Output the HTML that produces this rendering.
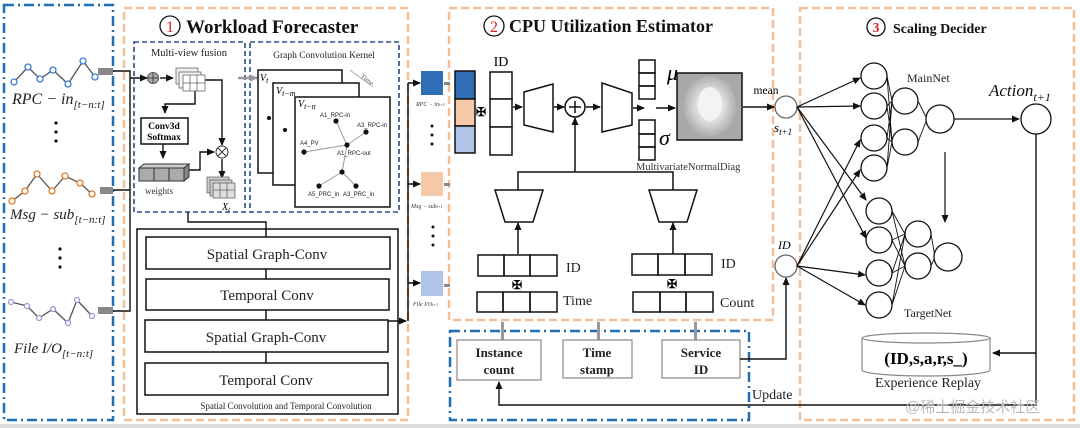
<!DOCTYPE html>
<html><head><meta charset="utf-8"><style>
html,body{margin:0;padding:0;background:#fff;}
svg{display:block;font-family:"Liberation Serif",serif;}
</style></head><body>
<svg width="1080" height="428" viewBox="0 0 1080 428" xmlns="http://www.w3.org/2000/svg">
<defs>
<marker id="a" markerWidth="8" markerHeight="8" refX="7" refY="4" orient="auto" markerUnits="userSpaceOnUse"><path d="M0,0.5 L8,4 L0,7.5 Z" fill="#111"/></marker>
<marker id="ag" markerWidth="8" markerHeight="8" refX="7" refY="4" orient="auto" markerUnits="userSpaceOnUse"><path d="M0,0.5 L8,4 L0,7.5 Z" fill="#999"/></marker>
<radialGradient id="g" cx="50%" cy="50%" r="50%"><stop offset="0" stop-color="#f4f4f4"/><stop offset="0.45" stop-color="#e6e6e6"/><stop offset="0.75" stop-color="#c8c8c8"/><stop offset="1" stop-color="#b0b0b0"/></radialGradient>
</defs>
<rect x="0" y="0" width="1080" height="428" fill="#fff"/>
<rect x="0" y="424" width="1080" height="4" fill="#ddd"/>

<!-- containers -->
<rect x="4" y="5" width="109" height="415" fill="none" stroke="#1f6fb2" stroke-width="2.5" stroke-dasharray="10,4,2,4"/>
<rect x="124" y="8" width="284" height="412" fill="none" stroke="#f2bf99" stroke-width="2.5" stroke-dasharray="8,4"/>
<rect x="449" y="8" width="324" height="312" fill="none" stroke="#f2bf99" stroke-width="2.5" stroke-dasharray="8,4"/>
<rect x="800" y="8" width="274" height="412" fill="none" stroke="#f2bf99" stroke-width="2.5" stroke-dasharray="8,4"/>
<rect x="450" y="331" width="299" height="89" fill="none" stroke="#1f6fb2" stroke-width="2.5" stroke-dasharray="10,4,2,4"/>
<rect x="134" y="42" width="111" height="170" fill="none" stroke="#2b4a8c" stroke-width="1.6" stroke-dasharray="5,3"/>
<rect x="250" y="42" width="149" height="170" fill="none" stroke="#2b4a8c" stroke-width="1.6" stroke-dasharray="5,3"/>

<!-- titles -->
<circle cx="170" cy="26" r="10" fill="none" stroke="#111" stroke-width="1.3"/>
<text x="170" y="32" font-size="16" fill="#d22" text-anchor="middle">1</text>
<text x="186" y="33" font-size="19" font-weight="bold" fill="#111">Workload Forecaster</text>
<circle cx="494" cy="26" r="10" fill="none" stroke="#111" stroke-width="1.3"/>
<text x="494" y="32" font-size="16" fill="#d22" text-anchor="middle">2</text>
<text x="509" y="32" font-size="18" font-weight="bold" fill="#111">CPU Utilization Estimator</text>
<circle cx="876" cy="27" r="9" fill="none" stroke="#111" stroke-width="1.3"/>
<text x="876" y="32" font-size="14" fill="#d22" text-anchor="middle" font-weight="bold">3</text>
<text x="893" y="33" font-size="14" font-weight="bold" fill="#111">Scaling Decider</text>

<!-- time series -->
<g fill="none" stroke-width="1.3">
<polyline points="14,82 28,67 40,79 53,70 68,84 83,61 95,77" stroke="#555"/>
<g stroke="#3a7bd5" fill="#fff"><circle cx="14" cy="82" r="3"/><circle cx="28" cy="67" r="3"/><circle cx="40" cy="79" r="3"/><circle cx="53" cy="70" r="3"/><circle cx="68" cy="84" r="3"/><circle cx="83" cy="61" r="3"/><circle cx="95" cy="77" r="3"/></g>
<polyline points="12,201 25,191 37,174 52,191 65,176 80,183 92,194" stroke="#555"/>
<g stroke="#e07b2a" fill="#fff"><circle cx="12" cy="201" r="3"/><circle cx="25" cy="191" r="3"/><circle cx="37" cy="174" r="3"/><circle cx="52" cy="191" r="3"/><circle cx="65" cy="176" r="3"/><circle cx="80" cy="183" r="3"/><circle cx="92" cy="194" r="3"/></g>
<polyline points="11,302 27,306 39,318 53,309 68,323 77,300 92,316" stroke="#555"/>
<g stroke="#9a9ad8" fill="#fff"><circle cx="11" cy="302" r="2.5"/><circle cx="27" cy="306" r="2.5"/><circle cx="39" cy="318" r="2.5"/><circle cx="53" cy="309" r="2.5"/><circle cx="68" cy="323" r="2.5"/><circle cx="77" cy="300" r="2.5"/><circle cx="92" cy="316" r="2.5"/></g>
</g>
<text x="12" y="104" font-size="16" font-style="italic" fill="#222">RPC − in<tspan font-size="11" dy="4">[t−n:t]</tspan></text>
<text x="10" y="219" font-size="15" font-style="italic" fill="#222">Msg − sub<tspan font-size="11" dy="4">[t−n:t]</tspan></text>
<text x="14" y="353" font-size="15" font-style="italic" fill="#222">File I/O<tspan font-size="11" dy="4">[t−n:t]</tspan></text>
<g fill="#111"><circle cx="56" cy="123" r="1.6"/><circle cx="56" cy="132" r="1.6"/><circle cx="56" cy="141" r="1.6"/>
<circle cx="60" cy="249" r="1.6"/><circle cx="60" cy="258" r="1.6"/><circle cx="60" cy="267" r="1.6"/></g>
<rect x="98" y="68" width="15" height="7" fill="#888"/>
<rect x="100" y="187" width="13" height="7" fill="#888"/>
<rect x="98" y="307" width="15" height="7" fill="#888"/>

<!-- left connectors -->
<g stroke="#111" stroke-width="1.4" fill="none">
<polyline points="113,71 130,71 130,311 113,311"/>
<line x1="113" y1="190" x2="130" y2="190"/>
<line x1="130" y1="78" x2="147" y2="78" marker-end="url(#a)"/>
<line x1="160" y1="78" x2="173" y2="78" marker-end="url(#a)"/>
<polyline points="195,86 195,104 165,104 165,113" marker-end="url(#a)"/>
<polyline points="205,80 222,80 222,145" marker-end="url(#a)"/>
<line x1="163" y1="143" x2="163" y2="158" marker-end="url(#a)"/>
<polyline points="184,170 200,170 200,152 214,152" marker-end="url(#a)"/>
<line x1="222" y1="159" x2="222" y2="178" marker-end="url(#a)"/>
<polyline points="188,212 188,222 266,222 266,229"/>
</g>
<line x1="238" y1="78" x2="257" y2="78" stroke="#999" stroke-width="2.5" marker-end="url(#ag)"/>
<circle cx="153" cy="78" r="5.5" fill="#aaa" stroke="#555" stroke-width="1"/>
<line x1="153" y1="73" x2="153" y2="83" stroke="#333" stroke-width="0.8"/><line x1="148" y1="78" x2="158" y2="78" stroke="#333" stroke-width="0.8"/>
<circle cx="222" cy="152" r="6" fill="#fff" stroke="#333" stroke-width="1"/>
<path d="M218,148 L226,156 M226,148 L218,156" stroke="#333" stroke-width="1"/>
<!-- tensor cubes -->
<g stroke="#666" stroke-width="0.8" fill="#fff">
<rect x="176" y="68" width="22" height="16" fill="#eee"/><rect x="179" y="72" width="22" height="16" fill="#f4f4f4"/>
<rect x="183" y="75" width="22" height="16"/><line x1="190" y1="75" x2="190" y2="91"/><line x1="197" y1="75" x2="197" y2="91"/><line x1="183" y1="83" x2="205" y2="83"/>
<rect x="207" y="177" width="22" height="16" fill="#ccc"/><rect x="210" y="180" width="22" height="16" fill="#ccc"/>
<rect x="213" y="183" width="22" height="15" fill="#ddd"/><line x1="220" y1="183" x2="220" y2="198"/><line x1="227" y1="183" x2="227" y2="198"/><line x1="213" y1="190" x2="235" y2="190"/>
</g>
<rect x="141" y="118" width="47" height="26" fill="#fff" stroke="#111" stroke-width="1.5"/>
<text x="164" y="129" font-size="9.5" font-weight="bold" text-anchor="middle">Conv3d</text>
<text x="164" y="140" font-size="9.5" font-weight="bold" text-anchor="middle">Softmax</text>
<g stroke="#333" stroke-width="1" fill="#aaa">
<rect x="139" y="168" width="15" height="13"/><rect x="154" y="168" width="15" height="13"/><rect x="169" y="168" width="15" height="13"/>
<path d="M139,168 L144,164 L189,164 L184,168 Z" fill="#ccc"/><path d="M184,168 L189,164 L189,177 L184,181 Z" fill="#888"/>
</g>
<text x="145" y="194" font-size="9" fill="#333">weights</text>
<text x="222" y="210" font-size="10" font-style="italic">X<tspan font-size="7" dy="2">t</tspan></text>
<text x="189" y="56" font-size="10.5" text-anchor="middle" fill="#222">Multi-view fusion</text>
<text x="324" y="58" font-size="9.5" text-anchor="middle" fill="#222">Graph Convolution Kernel</text>

<!-- graph pages -->
<g stroke="#111" stroke-width="1.5" fill="#fff">
<rect x="258" y="70" width="84" height="103"/>
<rect x="273" y="83" width="86" height="102"/>
<rect x="295" y="97" width="95" height="110"/>
</g>
<text x="260" y="81" font-size="10" font-style="italic">V<tspan font-size="8" dy="2">t</tspan></text>
<text x="276" y="94" font-size="10" font-style="italic">V<tspan font-size="8" dy="2">t−m</tspan></text>
<text x="298" y="107" font-size="10" font-style="italic">V<tspan font-size="8" dy="2">t−n</tspan></text>
<text x="360" y="77" font-size="7" fill="#555" transform="rotate(38 360 77)">Time</text>
<line x1="350" y1="70" x2="373" y2="87" stroke="#aaa" stroke-width="1"/>
<circle cx="269" cy="118" r="2" fill="#111"/><circle cx="285" cy="130" r="2" fill="#111"/>
<g stroke="#999" stroke-width="1"><line x1="336" y1="121" x2="347" y2="145"/><line x1="366" y1="132" x2="347" y2="145"/><line x1="304" y1="152" x2="347" y2="145"/><line x1="347" y1="145" x2="342" y2="172"/><line x1="342" y1="172" x2="319" y2="186"/><line x1="342" y1="172" x2="356" y2="186"/></g>
<g fill="#111"><circle cx="336" cy="121" r="2.6"/><circle cx="366" cy="132" r="2.6"/><circle cx="304" cy="152" r="2.6"/><circle cx="347" cy="145" r="2.6"/><circle cx="342" cy="172" r="2.6"/><circle cx="319" cy="186" r="2.6"/><circle cx="356" cy="186" r="2.6"/></g>
<g font-family="Liberation Sans,sans-serif" font-size="6" fill="#222">
<text x="320" y="117">A1_RPC-in</text><text x="357" y="127">A3_RPC-in</text><text x="300" y="145">A4_PV</text><text x="337" y="155">A1_RPC-out</text><text x="308" y="196">A5_PRC_in</text><text x="343" y="196">A3_PRC_in</text></g>

<!-- ST conv -->
<rect x="137" y="229" width="261" height="185" fill="none" stroke="#111" stroke-width="1.5"/>
<g stroke="#111" stroke-width="1.5" fill="#fff">
<line x1="266" y1="229" x2="266" y2="363"/>
<rect x="146" y="237" width="244" height="32"/><rect x="146" y="279" width="243" height="31"/>
<rect x="145" y="320" width="243" height="32"/><rect x="145" y="363" width="243" height="32"/>
</g>
<g font-size="15" text-anchor="middle" fill="#222">
<text x="267" y="259">Spatial Graph-Conv</text><text x="267" y="300">Temporal Conv</text>
<text x="266" y="342">Spatial Graph-Conv</text><text x="266" y="385">Temporal Conv</text></g>
<text x="286" y="409" font-size="9" text-anchor="middle" fill="#222">Spatial Convolution and Temporal Convolution</text>

<!-- forecaster outputs -->
<g stroke="#111" stroke-width="1.5" fill="none">
<line x1="388" y1="321" x2="406" y2="321" marker-end="url(#a)"/>
<polyline points="408,321 408,83"/>
<line x1="408" y1="83" x2="420" y2="83" marker-end="url(#a)"/>
<line x1="408" y1="184" x2="420" y2="184" marker-end="url(#a)"/>
<line x1="408" y1="283" x2="420" y2="283" marker-end="url(#a)"/>
</g>
<rect x="421" y="71" width="22" height="24" fill="#2f6db5"/>
<rect x="421" y="172" width="22" height="24" fill="#f5c9a8"/>
<rect x="421" y="271" width="22" height="25" fill="#b0c4e8"/>
<g fill="#888"><rect x="444" y="82" width="6" height="3"/><rect x="444" y="183" width="6" height="3"/><rect x="444" y="284" width="6" height="3"/></g>
<g font-size="6" font-style="italic" fill="#333"><text x="416" y="106">RPC − in<tspan font-size="4">t+1</tspan></text><text x="411" y="208">Msg − sub<tspan font-size="4">t+1</tspan></text><text x="413" y="306">File I/O<tspan font-size="4">t+1</tspan></text></g>
<g fill="#111"><circle cx="432" cy="126" r="1.5"/><circle cx="432" cy="135" r="1.5"/><circle cx="432" cy="144" r="1.5"/><circle cx="433" cy="227" r="1.5"/><circle cx="433" cy="236" r="1.5"/><circle cx="433" cy="245" r="1.5"/></g>

<!-- CPU estimator -->
<g stroke="#111" stroke-width="1.5">
<rect x="455" y="71" width="20" height="28" fill="#2f6db5"/><rect x="455" y="99" width="20" height="27" fill="#f5c9a8"/><rect x="455" y="126" width="20" height="27" fill="#b0c4e8"/>
<rect x="490" y="72" width="22" height="27" fill="#fff"/><rect x="490" y="99" width="22" height="28" fill="#fff"/><rect x="490" y="127" width="22" height="28" fill="#fff"/>
</g>
<text x="481" y="116" font-size="12" text-anchor="middle" font-weight="bold">✠</text>
<text x="501" y="66" font-size="14" text-anchor="middle">ID</text>
<g stroke="#111" stroke-width="1.5" fill="none">
<line x1="513" y1="107" x2="522" y2="107" marker-end="url(#a)"/>
<path d="M524,92 L553,84 L553,132 L524,125 Z" fill="#fff"/>
<line x1="554" y1="107" x2="564" y2="107" marker-end="url(#a)"/>
<circle cx="575" cy="107" r="10" fill="#fff"/>
<path d="M569,107 H581 M575,101 V113"/>
<line x1="586" y1="107" x2="600" y2="107" marker-end="url(#a)"/>
<path d="M602,83 L632,93 L632,125 L602,132 Z" fill="#fff"/>
<line x1="633" y1="108" x2="644" y2="108" marker-end="url(#a)"/>
<line x1="656" y1="108" x2="675" y2="108" marker-end="url(#a)"/>
<rect x="639" y="60" width="16" height="13"/><rect x="639" y="73" width="16" height="13"/><rect x="639" y="86" width="16" height="13"/>
<rect x="639" y="120" width="16" height="14"/><rect x="639" y="134" width="16" height="13"/><rect x="639" y="147" width="16" height="13"/>
<line x1="575" y1="172" x2="575" y2="118" marker-end="url(#a)"/>
<polyline points="518,190 518,172 673,172 673,190"/>
<path d="M495,190 L543,190 L533,222 L505,222 Z" fill="#fff"/>
<path d="M649,190 L697,190 L687,222 L659,222 Z" fill="#fff"/>
<line x1="518" y1="254" x2="518" y2="223" marker-end="url(#a)"/>
<line x1="673" y1="254" x2="673" y2="223" marker-end="url(#a)"/>
<rect x="478" y="255" width="26" height="21"/><rect x="504" y="255" width="26" height="21"/><rect x="530" y="255" width="27" height="21"/>
<rect x="477" y="292" width="26" height="20"/><rect x="503" y="292" width="27" height="20"/><rect x="530" y="292" width="27" height="20"/>
<rect x="632" y="254" width="26" height="21"/><rect x="658" y="254" width="27" height="21"/><rect x="685" y="254" width="27" height="21"/>
<rect x="633" y="292" width="27" height="20"/><rect x="660" y="292" width="26" height="20"/><rect x="686" y="292" width="27" height="20"/>
</g>
<rect x="677" y="73" width="65" height="67" fill="#a9a9a9" stroke="#111" stroke-width="1.5"/>
<ellipse cx="710" cy="106" rx="26" ry="30" fill="url(#g)"/>
<ellipse cx="710" cy="104" rx="12" ry="17" fill="#f3f3f3"/>
<text x="667" y="80" font-size="22" font-style="italic">μ</text>
<text x="659" y="145" font-size="22" font-style="italic">σ</text>
<text x="636" y="170" font-size="10.5" fill="#333">MultivariateNormalDiag</text>
<text x="766" y="94" font-size="11.5" text-anchor="middle">mean</text>
<line x1="743" y1="107" x2="774" y2="107" stroke="#111" stroke-width="1.5" marker-end="url(#a)"/>
<circle cx="786" cy="107" r="11" fill="#fff" stroke="#666" stroke-width="1.3"/>
<text x="774" y="132" font-size="13" font-style="italic">s<tspan font-size="9" dy="3">t+1</tspan></text>
<text x="517" y="289" font-size="12" text-anchor="middle" font-weight="bold">✠</text>
<text x="672" y="288" font-size="12" text-anchor="middle" font-weight="bold">✠</text>
<g font-size="14" fill="#222"><text x="566" y="272">ID</text><text x="563" y="305">Time</text><text x="721" y="268">ID</text><text x="720" y="307">Count</text></g>

<!-- bottom boxes -->
<g fill="#999"><rect x="501" y="322" width="3" height="18"/><rect x="597" y="322" width="3" height="18"/><rect x="694" y="322" width="3" height="18"/></g>
<g stroke="#888" stroke-width="1.2" fill="#fff">
<rect x="457" y="340" width="84" height="40"/><rect x="563" y="340" width="69" height="38"/><rect x="662" y="340" width="78" height="38"/></g>
<g font-size="13" font-weight="bold" text-anchor="middle" fill="#222">
<text x="499" y="357">Instance</text><text x="499" y="374">count</text>
<text x="597" y="357">Time</text><text x="597" y="374">stamp</text>
<text x="701" y="357">Service</text><text x="701" y="374">ID</text></g>
<g stroke="#111" stroke-width="1.4" fill="none">
<polyline points="740,359 786,359 786,278" marker-end="url(#a)"/>
<polyline points="1036,134 1036,405 499,405 499,382" marker-end="url(#a)"/>
<line x1="1036" y1="353" x2="993" y2="353" marker-end="url(#a)"/>
</g>
<circle cx="786" cy="266" r="11" fill="#fff" stroke="#666" stroke-width="1.3"/>
<text x="778" y="249" font-size="12" font-style="italic">ID</text>
<text x="752" y="399" font-size="14" fill="#222">Update</text>

<!-- NN -->
<g stroke="#111" stroke-width="1.2" fill="none">
<line x1="797" y1="107" x2="860" y2="78" marker-end="url(#a)"/>
<line x1="797" y1="107" x2="860" y2="106" marker-end="url(#a)"/>
<line x1="797" y1="107" x2="866" y2="200" marker-end="url(#a)"/>
<line x1="797" y1="107" x2="866" y2="238" marker-end="url(#a)"/>
<line x1="797" y1="266" x2="860" y2="140" marker-end="url(#a)"/>
<line x1="797" y1="266" x2="860" y2="170" marker-end="url(#a)"/>
<line x1="797" y1="266" x2="865" y2="275" marker-end="url(#a)"/>
<line x1="797" y1="266" x2="865" y2="305" marker-end="url(#a)"/>
<g stroke-width="0.9">
<path d="M887,76 L892,101 M887,76 L892,142 M887,106 L892,101 M887,106 L892,142 M887,138 L892,101 M887,138 L892,142 M887,168 L892,101 M887,168 L892,142"/>
<path d="M918,101 L927,119 M918,142 L927,119"/>
<path d="M892,211 L905,234 M892,211 L905,266 M892,240 L905,234 M892,240 L905,266 M892,273 L905,234 M892,273 L905,266 M892,305 L905,234 M892,305 L905,266"/>
<path d="M931,234 L935,257 M931,266 L935,257"/>
</g>
<line x1="954" y1="119" x2="1019" y2="119" marker-end="url(#a)"/>
<line x1="945" y1="152" x2="945" y2="222" marker-end="url(#a)"/>
</g>
<g stroke="#111" stroke-width="1.3" fill="#fff">
<circle cx="874" cy="76" r="13"/><circle cx="874" cy="106" r="13"/><circle cx="874" cy="138" r="13"/><circle cx="874" cy="168" r="13"/>
<circle cx="905" cy="101" r="13"/><circle cx="905" cy="142" r="13"/><circle cx="940" cy="119" r="14"/>
<circle cx="879" cy="211" r="13"/><circle cx="879" cy="240" r="13"/><circle cx="879" cy="273" r="13"/><circle cx="879" cy="305" r="13"/>
<circle cx="918" cy="234" r="13"/><circle cx="918" cy="266" r="13"/><circle cx="948" cy="257" r="14"/>
<circle cx="1036" cy="119" r="15"/>
</g>
<text x="907" y="82" font-size="12" fill="#222">MainNet</text>
<text x="904" y="317" font-size="12" fill="#222">TargetNet</text>
<text x="989" y="96" font-size="17" font-style="italic" fill="#111">Action<tspan font-size="12" dy="5">t+1</tspan></text>
<!-- cylinder -->
<path d="M862,338 L862,370 A64,6 0 0 0 990,370 L990,338" fill="#fff" stroke="#888" stroke-width="1.2"/>
<ellipse cx="926" cy="338" rx="64" ry="5" fill="#fff" stroke="#888" stroke-width="1.2"/>
<text x="926" y="364" font-size="17" font-weight="bold" text-anchor="middle">(ID,s,a,r,s_)</text>
<text x="928" y="387" font-size="14" text-anchor="middle" fill="#222">Experience Replay</text>
<text x="905" y="412" font-family="Liberation Sans,'Noto Sans CJK SC',sans-serif" font-size="15" fill="#bbb">@稀土掘金技术社区</text>
</svg>
</body></html>
